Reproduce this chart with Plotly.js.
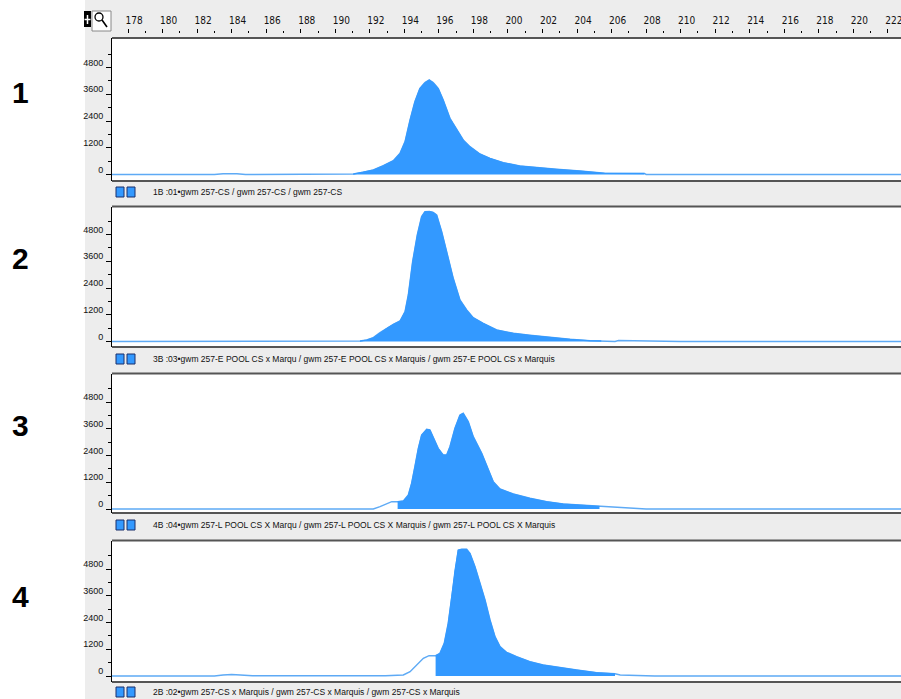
<!DOCTYPE html>
<html><head><meta charset="utf-8">
<script src="https://cdn.plot.ly/plotly-3.0.1.min.js"></script>
<style>html,body{margin:0;padding:0;background:#fff}#chart{width:901px;height:699px}</style>
</head><body><div id="chart"></div>
<script>
// ---------------- data ----------------
const panelLabels = ['1', '2', '3', '4'];
const laneTexts = [
  '1B :01\u2022gwm 257-CS / gwm 257-CS / gwm 257-CS',
  '3B :03\u2022gwm 257-E POOL CS x Marqu / gwm 257-E POOL CS x Marquis / gwm 257-E POOL CS x Marquis',
  '4B :04\u2022gwm 257-L POOL CS X Marqu / gwm 257-L POOL CS X Marquis / gwm 257-L POOL CS X Marquis',
  '2B :02\u2022gwm 257-CS x Marquis / gwm 257-CS x Marquis / gwm 257-CS x Marquis'
];
const rulerTicks = [178,180,182,184,186,188,190,192,194,196,198,200,202,204,206,208,210,212,214,216,218,220,222];
const yTicks = [0, 1200, 2400, 3600, 4800];
const yMinorTicks = [600, 1800, 3000, 4200, 5400];
const sizeRange = [177.07, 222.76];

// panel 1 trace (size in bp, relative fluorescence)
const p1X = [177.0, 183.0, 183.5, 183.9, 184.3, 184.8, 190.5, 191.04, 191.62, 192.2, 192.78, 193.36, 193.75, 194.04, 194.33, 194.61, 194.9, 195.19, 195.44, 195.67, 195.96, 196.25, 196.64, 197.03, 197.41, 197.8, 198.38, 198.96, 199.73, 200.69, 201.66, 202.82, 204.17, 205.14, 205.6, 207.9, 208.0, 223.0];
const p1Y = [0, 0, 35, 50, 35, 0, 0, 20, 99, 202, 396, 620, 950, 1473, 2445, 3267, 3866, 4120, 4239, 4120, 3866, 3342, 2520, 1996, 1548, 1249, 920, 725, 531, 381, 306, 232, 157, 97, 55, 50, 0, 0];
const p1Called = [191.04, 207.9];

// panel 2 trace
const p2X = [177.0, 191.2, 191.43, 191.82, 192.2, 192.59, 192.98, 193.36, 193.75, 194.04, 194.23, 194.48, 194.75, 195.0, 195.19, 195.45, 195.67, 195.87, 196.16, 196.45, 196.83, 197.22, 197.61, 197.99, 198.57, 199.35, 200.31, 201.27, 202.43, 203.59, 204.75, 205.4, 205.5, 206.2, 206.4, 208.0, 210.0, 223.0];
const p2Y = [0, 0, 20, 67, 172, 396, 591, 770, 920, 1338, 2086, 3581, 4778, 5600, 5824, 5830, 5794, 5675, 4927, 4030, 2834, 1862, 1413, 1069, 815, 516, 366, 277, 172, 97, 37, 30, 0, 0, 40, 30, 0, 0];
const p2Called = [191.43, 205.4];

// panel 3 trace
const p3X = [177.0, 192.2, 192.59, 192.98, 193.27, 193.61, 193.94, 194.23, 194.42, 194.61, 194.81, 195.0, 195.29, 195.48, 195.67, 195.96, 196.25, 196.45, 196.64, 196.93, 197.22, 197.41, 197.7, 197.99, 198.48, 198.86, 199.15, 199.54, 200.31, 201.27, 202.24, 203.2, 204.17, 205.3, 206.5, 208.0, 223.0];
const p3Y = [0, 0, 105, 254, 329, 329, 359, 628, 1151, 1899, 2721, 3320, 3574, 3550, 3245, 2721, 2422, 2422, 2796, 3619, 4217, 4292, 3918, 3245, 2497, 1750, 1226, 897, 673, 478, 329, 224, 179, 120, 60, 0, 0];
const p3Called = [193.61, 205.3];

// panel 4 trace
const p4X = [177.0, 183.0, 183.5, 184.0, 184.5, 185.2, 192.9, 193.17, 193.94, 194.33, 194.71, 195.1, 195.43, 195.81, 196.06, 196.31, 196.54, 196.74, 196.93, 197.12, 197.32, 197.61, 197.8, 198.09, 198.38, 198.67, 198.96, 199.25, 199.54, 199.92, 200.5, 201.27, 202.04, 203.01, 203.98, 205.14, 206.2, 206.5, 208.5, 223.0];
const p4Y = [0, 0, 50, 70, 50, 15, 15, 25, 45, 194, 493, 793, 912, 912, 1017, 1465, 2363, 3559, 4755, 5652, 5682, 5682, 5503, 4905, 4157, 3409, 2512, 1764, 1316, 1062, 867, 643, 493, 374, 269, 150, 100, 50, 0, 0];
const p4Called = [195.81, 206.2];

// ---------------- layout geometry (pixels) ----------------
const W = 901, H = 699;
const fx = px => px / W;
const fy = py => 1 - py / H;
const plotLeft = 112;
const panelTop = [38, 206.5, 373.5, 540.5];
const panelBottom = [181, 347, 513, 682];
const panelBase = [174.5, 341.5, 509, 676];
const unitsPerPx = 44.86;
const laneY = [192, 359, 525, 692];
const numberY = [92, 258, 425, 596];

const series = [[p1X, p1Y, p1Called], [p2X, p2Y, p2Called], [p3X, p3Y, p3Called], [p4X, p4Y, p4Called]];

const traces = [];
const layout = {
  width: W, height: H, autosize: false,
  margin: {l: 0, r: 0, t: 0, b: 0, pad: 0},
  paper_bgcolor: '#ededed', plot_bgcolor: '#ffffff',
  showlegend: false,
  shapes: [], annotations: []
};

series.forEach((s, i) => {
  const [xs, ys, called] = s;
  const sfx = i === 0 ? '' : String(i + 1);
  const fxs = [], fys = [];
  xs.forEach((v, k) => { if (v >= called[0] && v <= called[1]) { fxs.push(v); fys.push(ys[k]); } });
  traces.push({x: xs, y: ys, type: 'scatter', mode: 'lines', xaxis: 'x' + sfx, yaxis: 'y' + sfx,
    line: {color: '#5eaaf5', width: 1.5}, hoverinfo: 'skip'});
  traces.push({x: fxs, y: fys, type: 'scatter', mode: 'lines', xaxis: 'x' + sfx, yaxis: 'y' + sfx,
    fill: 'tozeroy', fillcolor: '#3399ff', line: {color: '#3399ff', width: 1}, hoverinfo: 'skip'});

  const xa = {domain: [fx(plotLeft), 1], range: sizeRange, anchor: 'y' + sfx, showgrid: false, zeroline: false, fixedrange: true};
  if (i === 0) {
    Object.assign(xa, {anchor: 'free', position: fy(33), side: 'top', visible: true, showline: false,
      tickmode: 'array', tickvals: rulerTicks, ticktext: rulerTicks.map(String),
      ticks: 'outside', ticklen: 4, tickwidth: 1, tickcolor: '#000',
      minor: {dtick: 1, tick0: 0, ticks: 'outside', ticklen: 2, tickwidth: 1, tickcolor: '#000', showgrid: false},
      tickfont: {family: 'Liberation Sans Narrow, Arial Narrow, DejaVu Sans Condensed, sans-serif', size: 10, color: '#111'},
      ticklabelshift: 6, ticklabelstandoff: 1, ticklabeloverflow: 'allow'});
  } else {
    xa.visible = false;
  }
  layout['xaxis' + sfx] = xa;

  const top = panelTop[i], bot = panelBottom[i], base = panelBase[i];
  layout['yaxis' + sfx] = {
    domain: [fy(bot), fy(top)], anchor: 'x' + sfx,
    range: [-(bot - base) * unitsPerPx, (base - top) * unitsPerPx],
    tickmode: 'array', tickvals: yTicks, ticktext: yTicks.map(String),
    ticks: 'outside', ticklen: 5, tickwidth: 1, tickcolor: '#000',
    minor: {tickvals: yMinorTicks, ticks: 'outside', ticklen: 3, tickwidth: 1, tickcolor: '#000', showgrid: false},
    showline: true, linecolor: '#000', linewidth: 1, showgrid: false, zeroline: false,
    tickfont: {family: 'Liberation Sans, Arial, sans-serif', size: 9, color: '#111'},
    ticklabelshift: -5, ticklabelstandoff: 1, fixedrange: true
  };

  // panel borders
  [top, bot].forEach(py => layout.shapes.push({type: 'line', xref: 'paper', yref: 'paper',
    x0: fx(plotLeft), x1: 1, y0: fy(py), y1: fy(py), line: {color: '#555555', width: 2}}));

  // lane icons
  const ly = laneY[i];
  [[116, 124], [127, 135]].forEach(([a, b]) => layout.shapes.push({type: 'rect', xref: 'paper', yref: 'paper',
    x0: fx(a), x1: fx(b), y0: fy(ly + 5), y1: fy(ly - 5), fillcolor: '#3399ff', line: {color: '#1b2f6b', width: 1}}));

  layout.annotations.push({xref: 'paper', yref: 'paper', x: fx(151), y: fy(ly), xanchor: 'left', yanchor: 'middle',
    text: laneTexts[i], showarrow: false,
    font: {family: 'Liberation Sans, Arial, sans-serif', size: 8.5, color: '#111'}});
  layout.annotations.push({xref: 'paper', yref: 'paper', x: fx(20), y: fy(numberY[i]), xanchor: 'center', yanchor: 'middle',
    text: '<b>' + panelLabels[i] + '</b>', showarrow: false,
    font: {family: 'Liberation Sans, Arial, sans-serif', size: 30, color: '#000'}});
});

// white left margin area
layout.shapes.unshift({type: 'rect', xref: 'paper', yref: 'paper', x0: 0, x1: fx(85), y0: 0, y1: 1,
  fillcolor: '#ffffff', line: {width: 0}, layer: 'below'});
// ruler tool icons
layout.shapes.push({type: 'rect', xref: 'paper', yref: 'paper', x0: fx(84), x1: fx(91), y0: fy(27), y1: fy(11), fillcolor: '#000', line: {width: 0}});
layout.shapes.push({type: 'line', xref: 'paper', yref: 'paper', x0: fx(87.5), x1: fx(87.5), y0: fy(15), y1: fy(24), line: {color: '#fff', width: 1.5}});
layout.shapes.push({type: 'line', xref: 'paper', yref: 'paper', x0: fx(84.5), x1: fx(90.5), y0: fy(19.5), y1: fy(19.5), line: {color: '#fff', width: 1.5}});
layout.shapes.push({type: 'rect', xref: 'paper', yref: 'paper', x0: fx(92), x1: fx(111), y0: fy(31), y1: fy(11), fillcolor: '#fff', line: {color: '#888', width: 1}});
layout.shapes.push({type: 'circle', xref: 'paper', yref: 'paper', x0: fx(95), x1: fx(103), y0: fy(21), y1: fy(13), line: {color: '#000', width: 1.3}});
layout.shapes.push({type: 'line', xref: 'paper', yref: 'paper', x0: fx(102), x1: fx(107), y0: fy(20), y1: fy(27), line: {color: '#000', width: 1.6}});

Plotly.newPlot('chart', traces, layout, {staticPlot: true, displayModeBar: false});
</script>
</body></html>
